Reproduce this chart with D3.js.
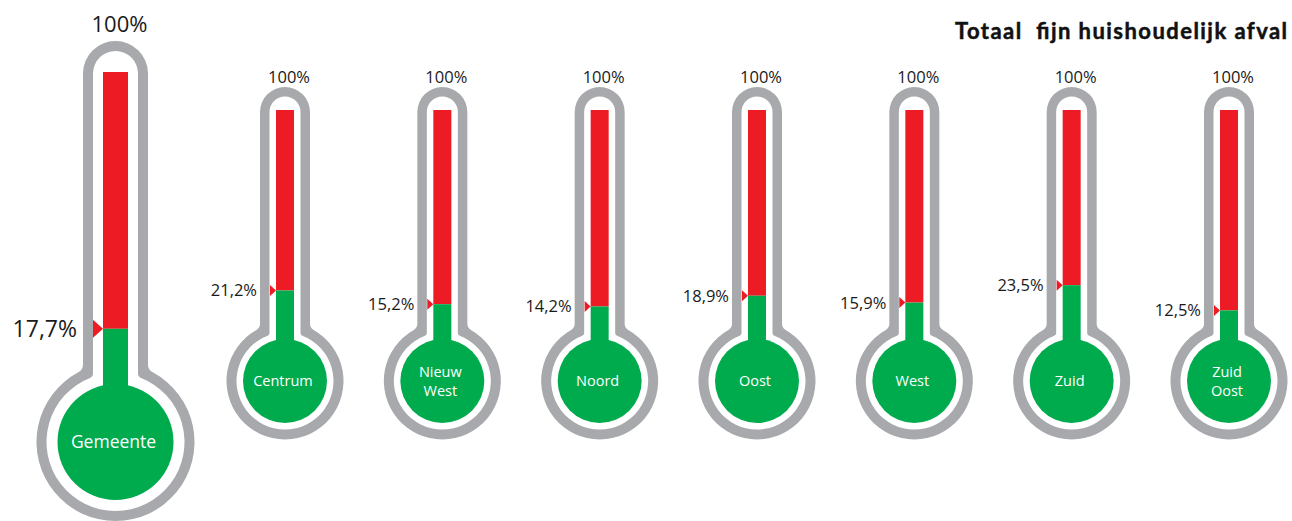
<!DOCTYPE html>
<html>
<head>
<meta charset="utf-8">
<script src="https://cdn.jsdelivr.net/npm/d3@7"></script>
<style>
  html, body { margin: 0; padding: 0; background: #fff; }
  svg { display: block; }
</style>
</head>
<body>
<div id="chart"></div>
<script>
// ---- data ----
const title = "Totaal  fijn huishoudelijk afval";
const totalCategory = "Gemeente";
const totalValue = 17.7;
const districts = ["Centrum", "Nieuw West", "Noord", "Oost", "West", "Zuid", "Zuid Oost"];
const districtValues = [21.2, 15.2, 14.2, 18.9, 15.9, 23.5, 12.5];
const scaleMax = 100;
const scaleMaxLabel = "100%";

// ---- setup ----
const W = 1292, H = 521;
const COL_GRAY = "#a7a9ac", COL_RED = "#ed1c24", COL_GREEN = "#00ab4e";
const FONT = "'Open Sans', 'Liberation Sans', sans-serif";

const nl = d3.formatLocale({decimal: ",", thousands: ".", grouping: [3], currency: ["€", ""]});
const fmt = v => nl.format(".1f")(v) + "%";

const svg = d3.select("#chart").append("svg")
  .attr("width", W).attr("height", H);

const bigGeom = {
  top: 41, outerHalf: 32.5, innerHalf: 22.5, barHalf: 12.5,
  bulbCy: 442, bulbOuter: 79, bulbInner: 69, bulbFill: 58,
  filletOuter: 9, filletInner: 4,
  barTop: 72, triW: 10, triH: 18, labelSize: 23, labelGap: 6,
  topSize: 22, topBaseline: 32, nameSize: 17.5, lineH: 21
};
const smallGeom = {
  top: 87, outerHalf: 25, innerHalf: 15.5, barHalf: 9,
  bulbCy: 381, bulbOuter: 58.5, bulbInner: 48.5, bulbFill: 42,
  filletOuter: 7, filletInner: 3,
  barTop: 110, triW: 6, triH: 11, labelSize: 16.5, labelGap: 3,
  topSize: 16.5, topBaseline: 83, nameSize: 14.5, lineH: 19
};

// outline path: rounded tube joined to a circular bulb with concave fillets
function bulbPath(cx, topY, a, cy, R, f) {
  const arcCy = topY + a;
  const dy = Math.sqrt((R + f) * (R + f) - (a + f) * (a + f));
  const k = R / (R + f);
  const txR = cx + (a + f) * k, txL = cx - (a + f) * k, ty = cy - dy * k;
  return `M${cx - a},${arcCy}` +
    ` A${a},${a} 0 0 1 ${cx + a},${arcCy}` +
    ` L${cx + a},${cy - dy}` +
    ` A${f},${f} 0 0 0 ${txR},${ty}` +
    ` A${R},${R} 0 1 1 ${txL},${ty}` +
    ` A${f},${f} 0 0 0 ${cx - a},${cy - dy} Z`;
}

function thermometer(cx, name, value, g) {
  const grp = svg.append("g").attr("class", "thermo");
  const y = d3.scaleLinear().domain([0, scaleMax]).range([g.bulbCy - g.bulbFill, g.barTop]);

  // gray outline and white inside
  grp.append("path")
    .attr("d", bulbPath(cx, g.top, g.outerHalf, g.bulbCy, g.bulbOuter, g.filletOuter))
    .attr("fill", COL_GRAY);
  const inset = g.outerHalf - g.innerHalf;
  grp.append("path")
    .attr("d", bulbPath(cx, g.top + inset, g.innerHalf, g.bulbCy, g.bulbInner, g.filletInner))
    .attr("fill", "#fff");

  // red (remaining) and green (value)
  grp.append("rect")
    .attr("x", cx - g.barHalf).attr("y", y(scaleMax))
    .attr("width", 2 * g.barHalf).attr("height", y(value) - y(scaleMax))
    .attr("fill", COL_RED);
  grp.append("rect")
    .attr("x", cx - g.barHalf).attr("y", y(value))
    .attr("width", 2 * g.barHalf).attr("height", g.bulbCy - y(value))
    .attr("fill", COL_GREEN);
  grp.append("circle").attr("cx", cx).attr("cy", g.bulbCy).attr("r", g.bulbFill).attr("fill", COL_GREEN);

  // marker triangle
  const tx = cx - g.barHalf, ty = y(value);
  grp.append("path")
    .attr("d", `M${tx},${ty} L${tx - g.triW},${ty - g.triH / 2} L${tx - g.triW},${ty + g.triH / 2} Z`)
    .attr("fill", COL_RED);

  // value label
  grp.append("text")
    .attr("x", cx - g.outerHalf - g.labelGap).attr("y", ty).attr("dy", "0.36em")
    .attr("text-anchor", "end")
    .attr("font-family", FONT).attr("font-size", g.labelSize).attr("fill", "#1a1a1a")
    .text(fmt(value));

  // 100% label
  grp.append("text")
    .attr("x", cx + 4).attr("y", g.topBaseline)
    .attr("text-anchor", "middle")
    .attr("font-family", FONT).attr("font-size", g.topSize).attr("fill", "#1a1a1a")
    .text(scaleMaxLabel);

  // category name
  const lines = name.split(" ");
  const t = grp.append("text")
    .attr("text-anchor", "middle")
    .attr("font-family", FONT).attr("font-size", g.nameSize).attr("fill", "#fff");
  lines.forEach((ln, i) => {
    t.append("tspan")
      .attr("x", cx - 2)
      .attr("y", g.bulbCy + (i - (lines.length - 1) / 2) * g.lineH)
      .attr("dy", "0.35em")
      .text(ln);
  });
}

// big one
thermometer(115.5, totalCategory, totalValue, bigGeom);

// districts
const x = d3.scalePoint().domain(districts).range([285, 1229]);
districts.forEach((d, i) => thermometer(x(d), d, districtValues[i], smallGeom));

// title
svg.append("text")
  .attr("x", 1287).attr("y", 38.5)
  .attr("text-anchor", "end")
  .attr("font-family", "Lato, 'Open Sans', sans-serif")
  .attr("font-weight", "bold").attr("font-size", 22).attr("fill", "#111")
  .attr("stroke", "#111").attr("stroke-width", 0.5)
  .attr("textLength", 332).attr("lengthAdjust", "spacing")
  .style("white-space", "pre")
  .text(title);
</script>
</body>
</html>
